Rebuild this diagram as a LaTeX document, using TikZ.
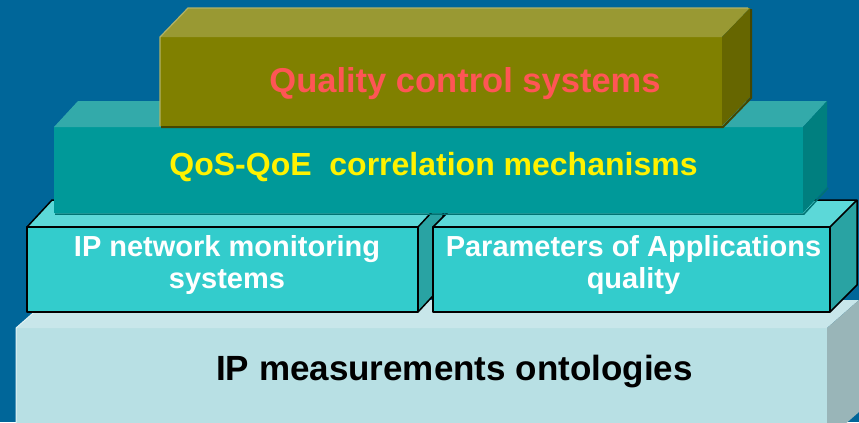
\documentclass[tikz,border=0pt]{standalone}
\usepackage{fontspec}
\setmainfont{Liberation Sans}
\usepackage{tikz}

\definecolor{bgblue}{HTML}{006699}
\definecolor{olvtop}{HTML}{999933}
\definecolor{olvfront}{HTML}{808000}
\definecolor{olvside}{HTML}{666600}
\definecolor{tealtop}{HTML}{33AAAA}
\definecolor{tealfront}{HTML}{009999}
\definecolor{tealside}{HTML}{007F7F}
\definecolor{cyantop}{HTML}{5CD8D8}
\definecolor{cyanfront}{HTML}{33CCCC}
\definecolor{cyanside}{HTML}{29A3A3}
\definecolor{paletop}{HTML}{C8E6EA}
\definecolor{palefront}{HTML}{B8E0E4}
\definecolor{paleside}{HTML}{99B5B8}
\definecolor{redtext}{HTML}{FF5555}

% a box seen slightly from above and from the left:
% x1,y1 (front top left), x2,y2 (front bottom right), depth dx, depth dy, front, top, side
\newcommand{\slab}[9]{%
  \fill[#7] (#1,#2) rectangle (#3,#4);
  \fill[#8] (#1,#2) -- ++(#5,-#6) -- ++(#3-#1,0) -- (#3,#2) -- cycle;
  \fill[#9] (#3,#2) -- ++(#5,-#6) -- ++(0,#4-#2) -- (#3,#4) -- cycle;
}

\tikzset{
  caption/.style={font=\bfseries, inner sep=0pt, anchor=base},
  edge/.style={black, line width=1.5bp, line join=round},
}

\begin{document}
\begin{tikzpicture}[x=1bp,y=-1bp]
  \fill[bgblue] (0,0) rectangle (859,422);
  \useasboundingbox (0,0) rectangle (859,422);

  % bottom layer
  \slab{16}{328}{827}{440}{32}{28}{palefront}{paletop}{paleside}
  \draw[white!60!palefront, line width=1bp] (16,440) -- (16,328) -- ++(32,-28);

  % middle layer, two boxes
  \slab{27}{227}{418}{312}{25}{27}{cyanfront}{cyantop}{cyanside}
  \draw[edge] (27,227) rectangle (418,312);
  \draw[edge] (27,227) -- ++(25,-27) -- ++(391,0) -- (418,227)
              (443,200) -- ++(0,85) -- (418,312);
  \slab{433}{227}{830}{312}{27}{27}{cyanfront}{cyantop}{cyanside}
  \draw[edge] (433,227) rectangle (830,312);
  \draw[edge] (433,227) -- ++(27,-27) -- ++(397,0) -- (830,227)
              (857,200) -- ++(0,85) -- (830,312);

  % correlation layer
  \slab{54}{127}{803}{213}{24}{26}{tealfront}{tealtop}{tealside}
  \draw[black!25!tealfront, line width=1.5bp] (55,214) -- (804,214) -- (828,188);

  % top layer
  \slab{160}{37}{722}{126}{28}{29}{olvfront}{olvtop}{olvside}
  \draw[black!45!olvfront, line width=2bp] (161,127) -- (723,127) -- (751,98) -- (751,9);
  \draw[white!25!olvtop, line width=1.2bp] (160,126) -- (160,37) -- ++(28,-29) -- ++(560,0);

  % texts
  \node[caption, text=redtext, font=\bfseries\fontsize{34.5bp}{40bp}\selectfont] (quality) at (465,92) {Quality control systems};
  \node[caption, text=yellow, font=\bfseries\fontsize{32bp}{36bp}\selectfont] (qosqoe) at (433.5,175) {QoS-QoE\ \ correlation mechanisms};
  \node[caption, text=white, font=\bfseries\fontsize{29bp}{32bp}\selectfont] (netmonA) at (227,256) {IP network monitoring};
  \node[caption, text=white, font=\bfseries\fontsize{29bp}{32bp}\selectfont] (netmonB) at (227,288) {systems};
  \node[caption, text=white, font=\bfseries\fontsize{29bp}{32bp}\selectfont] (appqualA) at (633.5,256) {Parameters of Applications};
  \node[caption, text=white, font=\bfseries\fontsize{29bp}{32bp}\selectfont] (appqualB) at (633.5,288) {quality};
  \node[caption, text=black, font=\bfseries\fontsize{35bp}{40bp}\selectfont] (ontol) at (454.5,380) {IP measurements ontologies};
\end{tikzpicture}
\end{document}
